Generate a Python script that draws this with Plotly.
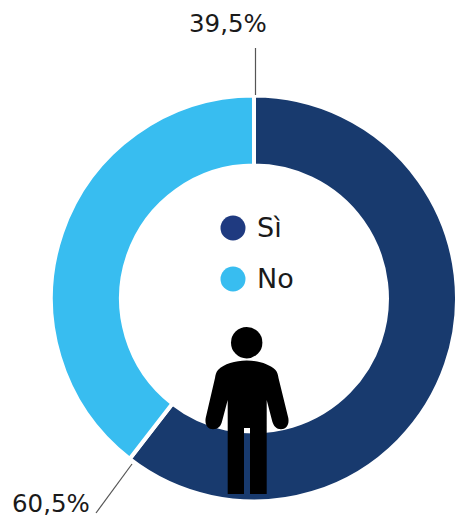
import plotly.graph_objects as go

categories = ["Sì", "No"]
values = [60.5, 39.5]
value_labels = ["60,5%", "39,5%"]
slice_colors = ["#183A6E", "#38BDF0"]
legend_colors = ["#1F3A80", "#38BDF0"]

W, H = 459, 517
FONT = "DejaVu Sans"
TEXT = "#1a1a1a"

fig = go.Figure()
fig.add_trace(go.Pie(
    labels=categories, values=values, hole=0.655, sort=False,
    direction="clockwise", rotation=0,
    marker=dict(colors=slice_colors, line=dict(color="white", width=4)),
    textinfo="none", hoverinfo="label+percent", showlegend=False,
    domain=dict(x=[51 / W, 457 / W], y=[(H - 501.5) / H, (H - 95.5) / H]),
))

shapes = []
# leader lines
for x0, y0, x1, y1 in [(255.5, 48, 255.5, 95), (132, 464, 96, 513)]:
    shapes.append(dict(type="line", xref="x", yref="y", x0=x0, y0=y0, x1=x1, y1=y1,
                       line=dict(color="#555555", width=1.2)))
# legend dots
for cy, c in zip([228, 279], legend_colors):
    shapes.append(dict(type="circle", xref="x", yref="y", x0=220.5, x1=245.5,
                       y0=cy - 12.5, y1=cy + 12.5, fillcolor=c, line_width=0))
# person
shapes.append(dict(type="circle", xref="x", yref="y", x0=231, x1=262.4, y0=327, y1=358.4,
                   fillcolor="black", line_width=0))
body = ("M 246.7 360.5 C 235 360.5 224 364 218 370 C 216 372 215.5 375 215 378 "
        "L 205.7 418 C 204.5 425 208 429 213 429.2 C 218 429.2 221 426 222 421.5 "
        "L 227.7 400 L 227.7 494 L 244 494 L 244 428 L 250 428 L 250 494 L 266.7 494 "
        "L 266.7 400 L 272.3 421.5 C 273.5 426 276.5 429.2 281 429.2 C 286 429 289.5 425 288.3 418 "
        "L 278.5 378 C 278 375 277.5 372 275.5 370 C 269.5 364 258 360.5 246.7 360.5 Z")
shapes.append(dict(type="path", xref="x", yref="y", path=body, fillcolor="black", line_width=0))

annotations = [
    dict(x=228, y=23, text=value_labels[1], font=dict(size=24.5)),
    dict(x=51, y=503, text=value_labels[0], font=dict(size=24.5)),
    dict(x=255, y=227, text=categories[0], xanchor="left", font=dict(size=27)),
    dict(x=255, y=278, text=categories[1], xanchor="left", font=dict(size=27)),
]
for a in annotations:
    a.update(xref="x", yref="y", showarrow=False)
    a["font"].update(family=FONT, color=TEXT)

fig.update_layout(
    width=W, height=H, autosize=False,
    margin=dict(l=0, r=0, t=0, b=0),
    paper_bgcolor="white", plot_bgcolor="rgba(0,0,0,0)",
    xaxis=dict(range=[0, W], visible=False, fixedrange=True),
    yaxis=dict(range=[H, 0], visible=False, fixedrange=True),
    shapes=shapes, annotations=annotations,
)
fig.add_trace(go.Scatter(x=[0, W], y=[0, H], mode="markers", marker=dict(opacity=0),
                         hoverinfo="skip", showlegend=False))
fig.write_html("out.html", config=dict(displayModeBar=False),
               post_script="document.body.style.margin='0';document.body.style.overflow='hidden';")
